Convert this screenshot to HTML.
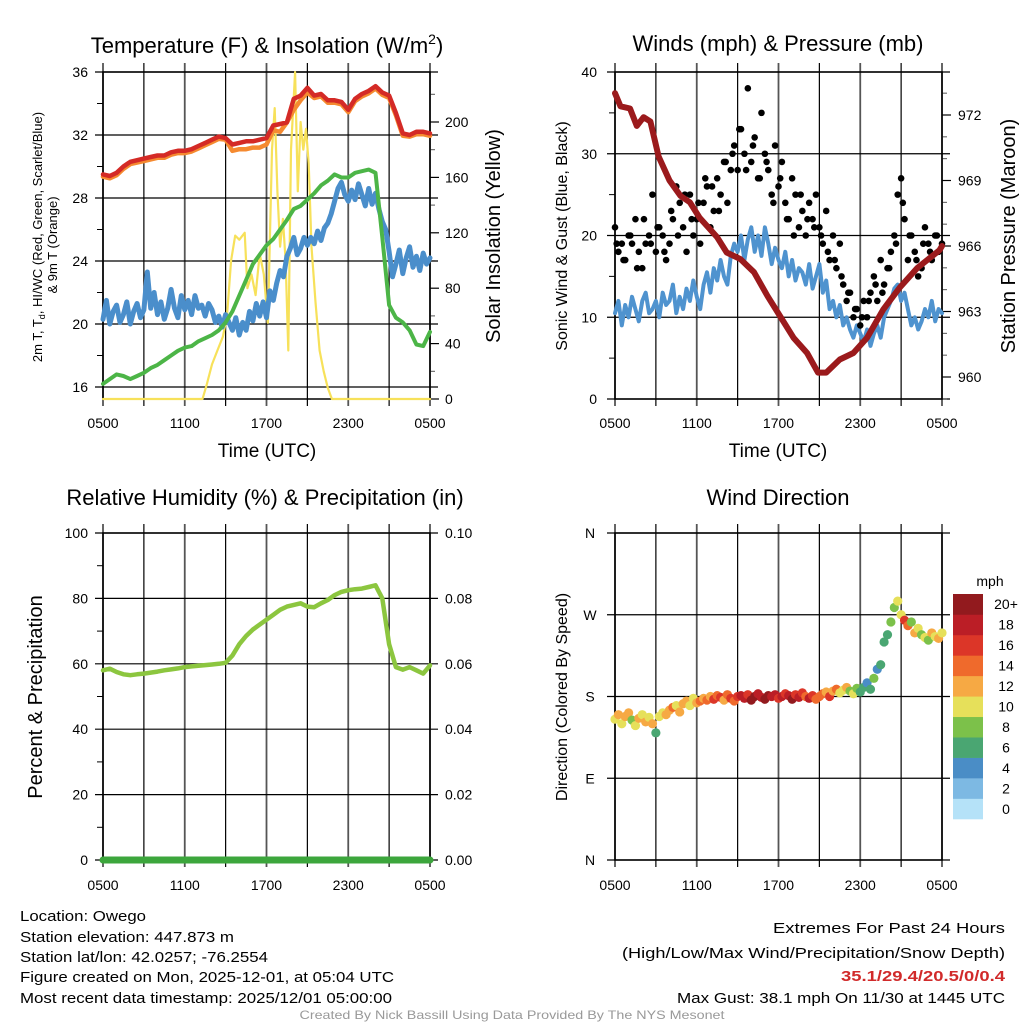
<!DOCTYPE html>
<html><head><meta charset="utf-8"><style>
html,body{margin:0;padding:0;background:#fff;}
svg{display:block;font-family:"Liberation Sans",Arial,sans-serif;}
</style></head><body>
<svg id="c" width="1024" height="1024" viewBox="0 0 1024 1024" xmlns="http://www.w3.org/2000/svg">
<text x="267" y="53" font-size="22" text-anchor="middle">Temperature (F) &amp; Insolation (W/m<tspan font-size="14" dy="-9">2</tspan><tspan dy="9">)</tspan></text>
<text x="778" y="51" font-size="22" text-anchor="middle">Winds (mph) &amp; Pressure (mb)</text>
<text x="265" y="505" font-size="22" text-anchor="middle">Relative Humidity (%) &amp; Precipitation (in)</text>
<text x="778" y="505" font-size="22" text-anchor="middle">Wind Direction</text>
<text transform="translate(42,237) rotate(-90)" font-size="13" text-anchor="middle">2m T, T<tspan font-size="9" dy="3">d</tspan><tspan dy="-3">, HI/WC (Red, Green, Scarlet/Blue)</tspan></text>
<text transform="translate(57,245) rotate(-90)" font-size="13" text-anchor="middle">&amp; 9m T (Orange)</text>
<text transform="translate(500,236) rotate(-90)" font-size="20" text-anchor="middle">Solar Insolation (Yellow)</text>
<text transform="translate(567,236) rotate(-90)" font-size="16" text-anchor="middle">Sonic Wind &amp; Gust (Blue, Black)</text>
<text transform="translate(1015,236) rotate(-90)" font-size="20" text-anchor="middle">Station Pressure (Maroon)</text>
<text transform="translate(42,697) rotate(-90)" font-size="20" text-anchor="middle">Percent &amp; Precipitation</text>
<text transform="translate(567,697) rotate(-90)" font-size="16" text-anchor="middle">Direction (Colored By Speed)</text>
<text x="267" y="457" font-size="19" text-anchor="middle">Time (UTC)</text>
<text x="778" y="457" font-size="19" text-anchor="middle">Time (UTC)</text>
<text x="990" y="586" font-size="14" text-anchor="middle">mph</text>
<g font-size="15">
<text x="20" y="921" textLength="126" lengthAdjust="spacingAndGlyphs">Location: Owego</text>
<text x="20" y="942" textLength="214" lengthAdjust="spacingAndGlyphs">Station elevation: 447.873 m</text>
<text x="20" y="962" textLength="248" lengthAdjust="spacingAndGlyphs">Station lat/lon: 42.0257; -76.2554</text>
<text x="20" y="982" textLength="374" lengthAdjust="spacingAndGlyphs">Figure created on Mon, 2025-12-01, at 05:04 UTC</text>
<text x="20" y="1003" textLength="372" lengthAdjust="spacingAndGlyphs">Most recent data timestamp: 2025/12/01 05:00:00</text>
<text x="1005" y="933" text-anchor="end" textLength="232" lengthAdjust="spacingAndGlyphs">Extremes For Past 24 Hours</text>
<text x="1005" y="958" text-anchor="end" textLength="383" lengthAdjust="spacingAndGlyphs">(High/Low/Max Wind/Precipitation/Snow Depth)</text>
<text x="1005" y="981" text-anchor="end" fill="#d12a2a" font-weight="bold" textLength="164" lengthAdjust="spacingAndGlyphs">35.1/29.4/20.5/0/0.4</text>
<text x="1005" y="1003" text-anchor="end" textLength="328" lengthAdjust="spacingAndGlyphs">Max Gust: 38.1 mph On 11/30 at 1445 UTC</text>
</g>
<text x="512" y="1019" font-size="12" fill="#999" text-anchor="middle" textLength="425" lengthAdjust="spacingAndGlyphs">Created By Nick Bassill Using Data Provided By The NYS Mesonet</text>
</svg>
<script>
const xTickLabels=["0500","1100","1700","2300","0500"];
const tempTicks=[16,20,24,28,32,36];
const insolTicks=[0,40,80,120,160,200];
const windTicks=[0,10,20,30,40];
const presTicks=[960,963,966,969,972];
const rhTicks=[0,20,40,60,80,100];
const precipTicks=["0.00","0.02","0.04","0.06","0.08","0.10"];
const dirTickLabels=["N","E","S","W","N"];
const speedBinLabels=["0","2","4","6","8","10","12","14","16","18","20+"];
const speedBinColors=["#b5e2f8","#7db9e3","#4a8dc6","#4aa672","#7cc14a","#e6e05a","#f6a944","#ef6a2c","#dc3628","#bb1e26","#921a1e"];
// half-hourly temperature series (hours 0..24)
const tempRed=[29.5,29.4,29.6,30.0,30.3,30.4,30.5,30.6,30.7,30.7,30.9,31.0,31.0,31.1,31.3,31.5,31.7,31.9,31.8,31.4,31.5,31.6,31.6,31.7,31.8,32.6,32.7,32.8,34.3,34.5,35.0,34.5,34.6,34.2,34.2,34.1,33.6,34.3,34.6,34.8,35.1,34.7,34.5,33.4,32.1,32.0,32.2,32.2,32.1];
const tempOrange=[29.35,29.25,29.45,29.85,30.15,30.25,30.35,30.45,30.55,30.55,30.75,30.85,30.85,30.95,31.15,31.35,31.55,31.75,31.7,31.0,31.1,31.1,31.2,31.2,31.4,32.3,32.2,32.8,33.6,34.2,34.7,34.35,34.45,34.05,34.05,33.95,33.45,34.15,34.45,34.65,34.95,34.55,34.35,33.25,31.95,31.9,32.05,32.05,31.95];
const tempGreen=[16.2,16.5,16.8,16.7,16.5,16.7,16.9,17.2,17.4,17.7,18.0,18.3,18.5,18.6,18.9,19.1,19.3,19.6,20.1,20.8,21.8,22.8,23.8,24.4,25.0,25.4,26.0,26.6,27.3,27.5,27.9,28.3,28.8,29.1,29.5,29.3,29.3,29.6,29.7,29.8,29.6,25.5,21.2,20.4,20.1,19.6,18.7,18.6,19.5];
// quarter-hourly heat index / wind chill
const tempBlue=[20.3,21.5,20.0,20.8,21.2,20.1,20.6,21.4,20.0,20.8,21.3,20.4,20.9,23.3,21.0,22.0,20.6,21.4,20.3,21.0,22.2,21.0,20.4,21.8,20.9,21.5,20.6,21.8,21.0,21.2,20.5,21.3,20.9,20.1,20.5,19.8,20.6,20.1,19.6,20.4,19.3,20.1,19.6,20.8,20.2,21.3,20.5,21.4,20.4,22.1,21.5,22.6,23.4,23.0,24.3,24.8,25.5,24.4,24.8,25.5,25.0,25.5,25.1,25.9,25.3,26.1,26.4,27.0,27.8,28.6,29.0,28.2,27.8,28.5,27.9,28.9,28.2,27.5,28.6,27.6,28.3,27.3,26.5,26.0,24.6,23.0,23.8,24.7,23.2,24.2,24.9,23.6,24.3,23.4,24.5,23.8,24.2];
const insolHours=[0,7.3,7.6,8.0,8.4,8.8,9.1,9.4,9.7,10.0,10.4,10.6,10.9,11.2,11.5,11.8,12.1,12.4,12.6,12.8,13.0,13.2,13.4,13.6,13.8,14.1,14.3,14.5,14.7,14.9,15.1,15.3,15.6,15.9,16.2,16.5,16.8,24];
const insolValues=[0,0,10,25,35,45,60,100,118,115,120,80,90,75,105,90,55,180,210,150,110,130,100,35,180,236,150,200,180,195,170,110,70,35,20,8,0,0];
// winds (quarter-hourly sonic)
const windSonic=[10.5,12,9,11.5,10,12.5,11,9.5,12,13,10.5,11,12,10,13,11.5,12,14,10.5,12.5,11,13.5,12,14.5,12.5,11,14,15.5,13,16,14.5,17,15,14,17.5,19,18,20,17,19.5,21,18,20,17.5,21,19,16.5,18.5,17,16,18,15,17,14.5,16,15.5,14,16.5,13.5,15,16.5,13,14.5,11,12,10,11.5,9,10,8.5,7.5,9,8,7,8.5,6.5,8,9,7.5,10,11,12,13.5,14,12,13,11,9,10,8.5,9.5,11,10,12,9.5,11,10.5];
const gustA=[21,18,19,17,20,19,22,18,16,19,20,25,18,21,20,17,19,22,26,24,21,18,25,20,22,19,24,26,21,23,27,25,29,24,28,31,28,33,30,38,29,32,27,35,30,28,25,31,26,29,24,22,27,25,21,23,20,24,22,25,21,19,23,17,20,16,19,14,12,13,10,11,9,12,10,13,15,12,17,14,16,18,20,25,27,22,17,20,18,15,16,21,19,17,20,18,19];
const gustB=[19,17,20,16,22,19,21,18,23,20,25,22,24,27,26,23,29,30,33,28,31,27,29,24,27,22,20,25,22,21,20,18,17,15,13,11,10,12,14,13,16,19,24,20,17,19,18,20];
const pressureHours=[0,0.4,1.1,1.6,2.1,2.6,3.2,4,4.8,5.5,6.2,7.5,8.2,9.2,10.2,11.2,12.1,13.1,14.1,14.9,15.5,16.5,17.5,18.5,19.7,20.9,22.2,23.8,24];
const pressureValues=[973.0,972.4,972.3,971.5,971.9,971.7,970.1,969.0,968.3,968.0,967.3,966.4,965.7,965.4,964.8,963.7,962.8,961.8,961.1,960.2,960.2,960.8,961.1,961.8,963.1,964.1,965.0,965.8,966.0];
// humidity
const rhValues=[58,58.5,57.5,56.8,56.5,56.8,57,57.3,57.6,58,58.3,58.6,59,59.2,59.4,59.6,59.8,60,60.3,62.5,66,68.5,70.5,72,73.5,75,76.5,77.5,78,78.5,77.5,77.3,78.5,79.5,81,82,82.5,82.8,83,83.5,84,80,66,59,58.2,59,58,57,59.5];
const precipValues=[0,0,0,0,0,0,0,0,0,0,0,0,0,0,0,0,0,0,0,0,0,0,0,0,0,0,0,0,0,0,0,0,0,0,0,0,0,0,0,0,0,0,0,0,0,0,0,0,0];
// wind direction (quarter-hourly)
const dirValues=[155,160,150,158,162,154,148,156,160,152,157,150,140,158,162,160,165,168,170,163,172,175,170,178,173,175,178,176,180,177,181,179,176,182,178,175,180,181,178,182,176,180,183,179,177,181,180,182,178,180,183,181,177,182,179,184,180,178,181,177,180,183,185,180,186,188,184,187,190,186,183,189,185,190,195,188,200,210,215,240,248,262,278,285,270,264,258,262,250,255,248,245,242,250,246,244,250];
const dirSpeeds=[11,12,10,13,12,9,11,12,10,13,11,12,7,10,11,13,12,14,11,12,13,12,11,10,13,14,12,15,13,16,14,17,13,15,16,14,17,18,19,17,20,21,18,19,22,20,18,19,17,19,17,18,20,16,18,17,15,19,16,14,15,15,13,16,12,14,11,10,12,9,11,8,7,7,5,6,8,4,7,6,7,8,9,11,10,16,14,9,12,10,8,11,9,12,10,13,11];

const NS="http://www.w3.org/2000/svg";
const svg=document.getElementById('c');
function mk(tag,attrs,parent){const e=document.createElementNS(NS,tag);for(const k in attrs)e.setAttribute(k,attrs[k]);(parent||svg).appendChild(e);return e;}
function linScale(d0,d1,r0,r1){return v=>r0+(v-d0)*(r1-r0)/(d1-d0);}

function panel(x0,y0,w,h,name){
  const g=mk('g',{});
  
  
  for(let i=0;i<=8;i++){const x=x0+w*i/8;
    const l=mk('line',{x1:x,x2:x,y1:y0-9,y2:y0+h+7,stroke:(i%2?'#000':'#555'),'stroke-width':(i%2?1.2:1.8)},g);
    
    
  }
  return g;
}
function hgrid(g,x0,w,y,name){
  const l=mk('line',{x1:x0-8,x2:x0+w+8,y1:y,y2:y,stroke:'#000','stroke-width':1.2},g);
  
  
}
function frame(g,x0,y0,w,h){
  const r=mk('rect',{x:x0,y:y0,width:w,height:h,fill:'none',stroke:'#000','stroke-width':1.5},g);
  
  
}
function xLabels(x0,w,y){
  xTickLabels.forEach((s,i)=>{const t=mk('text',{x:x0+w*i/4,y:y,'font-size':14,'text-anchor':'middle'});t.textContent=s;
    
    });
}
function label(x,y,s,anchor,name,size){const t=mk('text',{x:x,y:y,'font-size':size||14,'text-anchor':anchor});t.textContent=s;
  
  return t;}
function polyline(xs,ys,color,wd,name){
  const pts=xs.map((x,i)=>x.toFixed(1)+','+ys[i].toFixed(1)).join(' ');
  const p=mk('polyline',{points:pts,fill:'none',stroke:color,'stroke-width':wd,'stroke-linejoin':'round','stroke-linecap':'round'});
  
  
  return p;
}
const halfHours=tempRed.map((_,i)=>i*0.5);

// ---------- Panel 1: temperature ----------
{
const X0=103,Y0=72,W=327,H=327;
const xs=linScale(0,24,X0,X0+W);
const yT=linScale(36,16,72,387);
const yI=linScale(0,200,399,122);
const g=panel(X0,Y0,W,H,'temperature');
tempTicks.forEach(v=>{hgrid(g,X0,W,yT(v),'temp-gridline');label(88,yT(v)+5,String(v),'end','temp-tick-label');});
[18,22,26,30,34].forEach(v=>{mk('line',{x1:X0-6,x2:X0,y1:yT(v),y2:yT(v),stroke:'#000'},g);});
insolTicks.forEach(v=>{label(445,yI(v)+5,String(v),'start','insolation-tick-label');
  mk('line',{x1:X0+W,x2:X0+W+9,y1:yI(v),y2:yI(v),stroke:'#000','stroke-width':1.2},g);});
for(let v=20;v<=220;v+=40){mk('line',{x1:X0+W,x2:X0+W+5,y1:yI(v),y2:yI(v),stroke:'#555'},g);}
frame(g,X0,Y0,W,H);
xLabels(X0,W,428);
polyline(insolHours.map(xs),insolValues.map(yI),'#f7e15a',2.2,'insolation-line');
polyline(tempBlue.map((_,i)=>xs(i*0.25)),tempBlue.map(yT),'#4a8ecb',5,'heat-index-wind-chill-line');
polyline(halfHours.map(xs),tempGreen.map(yT),'#4cb547',4,'dewpoint-line');
polyline(halfHours.map(xs),tempOrange.map(yT),'#f58a30',4.5,'temperature-9m-line');
polyline(halfHours.map(xs),tempRed.map(yT),'#d42a26',4.5,'temperature-2m-line');
}
// ---------- Panel 2: winds ----------
{
const X0=615,Y0=72,W=327,H=327;
const xs=linScale(0,24,X0,X0+W);
const yW=linScale(0,40,399,72);
const yP=linScale(960,972,377,115);
const g=panel(X0,Y0,W,H,'winds');
windTicks.forEach(v=>{hgrid(g,X0,W,yW(v),'wind-gridline');label(597,yW(v)+5,String(v),'end','wind-tick-label');});
[5,15,25,35].forEach(v=>{mk('line',{x1:X0-6,x2:X0,y1:yW(v),y2:yW(v),stroke:'#000'},g);});
presTicks.forEach(v=>{label(958,yP(v)+5,String(v),'start','pressure-tick-label');
  mk('line',{x1:X0+W,x2:X0+W+9,y1:yP(v),y2:yP(v),stroke:'#000','stroke-width':1.2},g);});
for(let v=959;v<=973;v+=1){if((v-960)%3)mk('line',{x1:X0+W,x2:X0+W+5,y1:yP(v),y2:yP(v),stroke:'#555'},g);}
frame(g,X0,Y0,W,H);
xLabels(X0,W,428);
polyline(windSonic.map((_,i)=>xs(i*0.25)),windSonic.map(yW),'#4f93cf',4,'sonic-wind-line');
gustA.forEach((v,i)=>{const c=mk('circle',{cx:xs(i*0.25),cy:yW(v),r:3.3,fill:'#000'});
  
  });
gustB.forEach((v,i)=>{const c=mk('circle',{cx:xs(0.125+i*0.5),cy:yW(v),r:3.3,fill:'#000'});
  
  });
polyline(pressureHours.map(xs),pressureValues.map(yP),'#9b1a1c',6,'pressure-line');
}
// ---------- Panel 3: humidity ----------
{
const X0=103,Y0=533,W=327,H=327;
const xs=linScale(0,24,X0,X0+W);
const yR=linScale(0,100,860,533);
const yQ=linScale(0,0.1,860,533);
const g=panel(X0,Y0,W,H,'humidity');
rhTicks.forEach(v=>{hgrid(g,X0,W,yR(v),'humidity-gridline');label(88,yR(v)+5,String(v),'end','humidity-tick-label');});
[10,30,50,70,90].forEach(v=>{mk('line',{x1:X0-6,x2:X0,y1:yR(v),y2:yR(v),stroke:'#000'},g);});
precipTicks.forEach(s=>{label(445,yQ(parseFloat(s))+5,s,'start','precip-tick-label');});
frame(g,X0,Y0,W,H);
xLabels(X0,W,890);
polyline(halfHours.map(xs),precipValues.map(yQ),'#3ca63c',7,'precipitation-line');
polyline(halfHours.map(xs),rhValues.map(yR),'#8cc63f',4.5,'humidity-line');
}
// ---------- Panel 4: wind direction ----------
{
const X0=615,Y0=533,W=327,H=327;
const xs=linScale(0,24,X0,X0+W);
const yD=linScale(0,360,860,533);
const g=panel(X0,Y0,W,H,'wind-direction');
dirTickLabels.forEach((s,i)=>{hgrid(g,X0,W,yD(i*90),'direction-gridline');label(590,yD(i*90)+5,s,'middle','direction-tick-label');});
frame(g,X0,Y0,W,H);
xLabels(X0,W,890);
dirValues.forEach((d,i)=>{
  const bin=Math.min(10,Math.floor(dirSpeeds[i]/2));
  const c=mk('circle',{cx:xs(i*0.25),cy:yD(d),r:4.6,fill:speedBinColors[bin]});
  
  
});
const cbTop=594,cbBot=819,bh=(cbBot-cbTop)/speedBinColors.length;
speedBinColors.forEach((col,i)=>{
  const y=cbBot-(i+1)*bh;
  const r=mk('rect',{x:953,y:y,width:30,height:bh+0.3,fill:col});
  
  
  label(1006,y+bh/2+5,speedBinLabels[i],'middle','colorbar-label');
});
}
</script>
</body></html>
